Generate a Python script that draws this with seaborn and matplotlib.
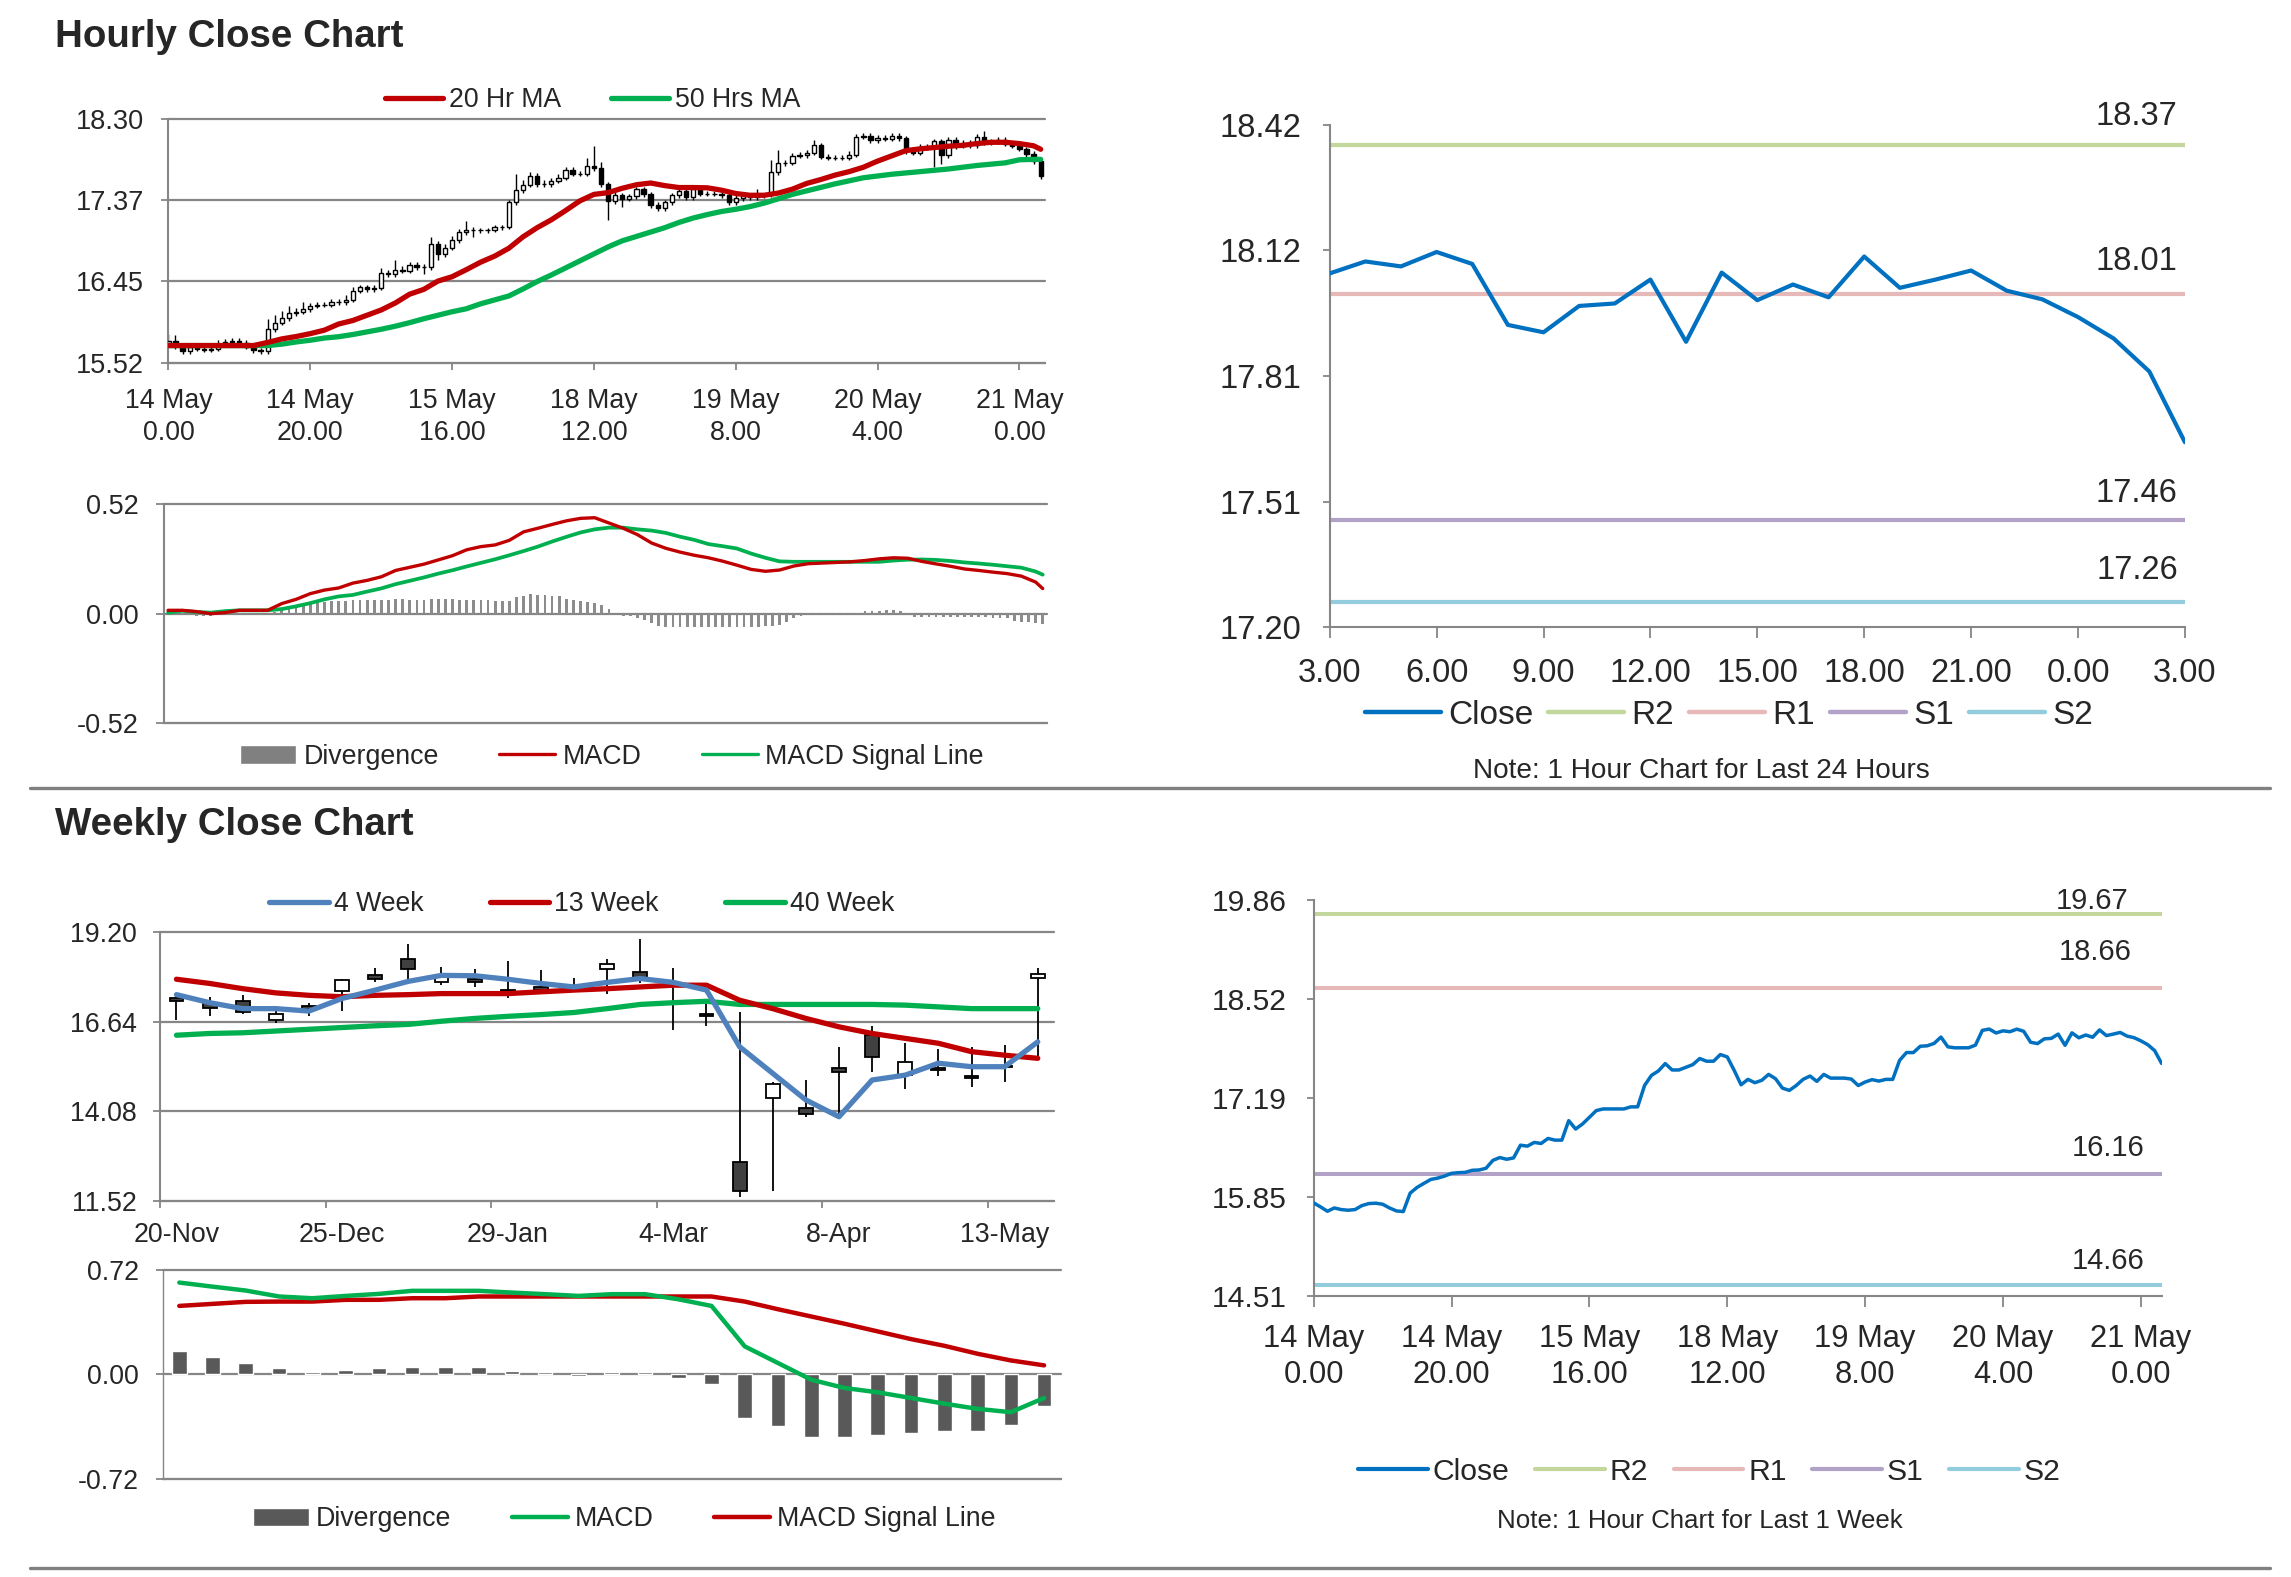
import numpy as np
import pandas as pd
import matplotlib
matplotlib.use("Agg")
import matplotlib.pyplot as plt
from matplotlib.lines import Line2D
from matplotlib.patches import Patch
import seaborn as sns

sns.set_theme(style="white")
plt.rcParams['font.family'] = ['Liberation Sans', 'DejaVu Sans']

RED = '#c00000'
GREEN = '#00b050'
BLUE4 = '#4f81bd'
CLOSE = '#0070c0'
GRID = '#868686'
LVL_COLORS = ['#c3d69b', '#e6b9b8', '#b3a2c7', '#93cddd']

# ---------------- hourly data: 14 May 0.00 -> 21 May 3.00, one value per hour
hr_open = [15.740, 15.766, 15.712, 15.653, 15.698, 15.676, 15.667, 15.676, 15.730, 15.757,
           15.762, 15.748, 15.698, 15.658, 15.649, 15.898, 15.975, 16.030, 16.083, 16.101,
           16.128, 16.165, 16.174, 16.178, 16.206, 16.210, 16.233, 16.340, 16.378, 16.355,
           16.373, 16.545, 16.532, 16.582, 16.568, 16.636, 16.613, 16.613, 16.876, 16.763,
           16.831, 16.921, 17.012, 17.034, 17.034, 17.034, 17.034, 17.062, 17.062, 17.350,
           17.487, 17.546, 17.646, 17.560, 17.560, 17.596, 17.632, 17.714, 17.678, 17.678,
           17.768, 17.736, 17.555, 17.360, 17.433, 17.388, 17.420, 17.500, 17.442, 17.315,
           17.284, 17.350, 17.433, 17.478, 17.406, 17.500, 17.450, 17.450, 17.450, 17.437,
           17.350, 17.397, 17.429, 17.410, 17.433, 17.433, 17.690, 17.795, 17.795, 17.880,
           17.886, 17.918, 18.004, 17.872, 17.859, 17.859, 17.859, 17.895, 18.094, 18.112,
           18.059, 18.088, 18.076, 18.111, 18.082, 17.934, 17.916, 17.980, 17.986, 18.044,
           17.893, 18.061, 17.994, 18.032, 18.001, 18.100, 18.024, 18.044, 18.066, 18.017,
           17.996, 17.953, 17.901, 17.821]
hr_close = [15.766, 15.712, 15.653, 15.698, 15.676, 15.667, 15.676, 15.730, 15.757, 15.762,
            15.748, 15.698, 15.658, 15.649, 15.898, 15.975, 16.030, 16.083, 16.101, 16.128,
            16.165, 16.174, 16.178, 16.206, 16.210, 16.233, 16.340, 16.378, 16.355, 16.373,
            16.545, 16.532, 16.582, 16.568, 16.636, 16.613, 16.613, 16.876, 16.763, 16.831,
            16.921, 17.012, 17.034, 17.034, 17.034, 17.034, 17.062, 17.062, 17.350, 17.487,
            17.546, 17.646, 17.560, 17.560, 17.596, 17.632, 17.714, 17.678, 17.678, 17.768,
            17.736, 17.555, 17.360, 17.433, 17.388, 17.420, 17.500, 17.442, 17.315, 17.284,
            17.350, 17.433, 17.478, 17.406, 17.500, 17.450, 17.450, 17.450, 17.437, 17.350,
            17.397, 17.429, 17.410, 17.433, 17.433, 17.690, 17.795, 17.795, 17.880, 17.886,
            17.918, 18.004, 17.872, 17.859, 17.859, 17.859, 17.895, 18.094, 18.112, 18.059,
            18.088, 18.076, 18.111, 18.082, 17.934, 17.916, 17.980, 17.986, 18.044, 17.893,
            18.061, 17.994, 18.032, 18.001, 18.100, 18.024, 18.044, 18.066, 18.017, 17.996,
            17.953, 17.901, 17.821, 17.649]
hr_high = [15.85, 15.84, 15.74, 15.73, 15.73, 15.71, 15.71, 15.78, 15.79, 15.80,
           15.80, 15.78, 15.73, 15.69, 16.02, 16.06, 16.11, 16.17, 16.14, 16.21,
           16.20, 16.21, 16.21, 16.24, 16.24, 16.29, 16.38, 16.41, 16.41, 16.40,
           16.60, 16.58, 16.69, 16.62, 16.67, 16.67, 16.65, 16.95, 16.91, 16.87,
           16.96, 17.05, 17.14, 17.07, 17.06, 17.06, 17.09, 17.09, 17.38, 17.67,
           17.60, 17.70, 17.68, 17.60, 17.63, 17.67, 17.75, 17.75, 17.71, 17.85,
           17.99, 17.81, 17.58, 17.47, 17.46, 17.45, 17.53, 17.53, 17.47, 17.35,
           17.38, 17.46, 17.51, 17.51, 17.53, 17.53, 17.48, 17.48, 17.49, 17.47,
           17.43, 17.46, 17.46, 17.50, 17.46, 17.83, 17.945, 17.83, 17.91, 17.92,
           17.95, 18.06, 18.03, 17.90, 17.89, 17.89, 17.93, 18.13, 18.14, 18.14,
           18.12, 18.12, 18.14, 18.14, 18.11, 17.96, 18.01, 18.02, 18.07, 18.07,
           18.09, 18.09, 18.06, 18.06, 18.13, 18.16, 18.07, 18.09, 18.09, 18.04,
           18.02, 17.98, 17.93, 17.85]
hr_low = [15.71, 15.68, 15.62, 15.62, 15.65, 15.64, 15.64, 15.65, 15.70, 15.73,
          15.72, 15.67, 15.63, 15.62, 15.62, 15.87, 15.95, 16.00, 16.05, 16.07,
          16.10, 16.14, 16.15, 16.15, 16.18, 16.18, 16.21, 16.31, 16.33, 16.33,
          16.35, 16.50, 16.50, 16.54, 16.54, 16.58, 16.53, 16.58, 16.69, 16.73,
          16.80, 16.89, 16.98, 16.95, 17.00, 17.00, 17.01, 17.03, 17.04, 17.32,
          17.46, 17.52, 17.53, 17.53, 17.53, 17.57, 17.60, 17.65, 17.65, 17.65,
          17.71, 17.52, 17.15, 17.33, 17.30, 17.36, 17.39, 17.41, 17.28, 17.25,
          17.25, 17.32, 17.40, 17.38, 17.38, 17.42, 17.42, 17.42, 17.40, 17.32,
          17.32, 17.37, 17.38, 17.38, 17.40, 17.41, 17.66, 17.76, 17.77, 17.85,
          17.86, 17.89, 17.84, 17.83, 17.83, 17.83, 17.83, 17.87, 18.07, 18.03,
          18.03, 18.05, 18.05, 18.05, 17.90, 17.89, 17.89, 17.95, 17.75, 17.79,
          17.86, 17.96, 17.97, 17.97, 17.97, 18.00, 18.00, 18.02, 17.99, 17.97,
          17.93, 17.87, 17.79, 17.61]

# moving averages and MACD, read every second hour
ma_hours = list(range(0, 123, 2)) + [123]
ma20 = [15.714, 15.714, 15.714, 15.714, 15.714, 15.714, 15.714, 15.75, 15.79, 15.817,
        15.85, 15.89, 15.96, 16.00, 16.06, 16.12, 16.20, 16.30, 16.355, 16.45,
        16.50, 16.58, 16.665, 16.735, 16.825, 16.955, 17.06, 17.15, 17.255, 17.365,
        17.44, 17.46, 17.51, 17.55, 17.57, 17.54, 17.518, 17.518, 17.515, 17.488,
        17.45, 17.43, 17.43, 17.455, 17.50, 17.565, 17.61, 17.66, 17.70, 17.75,
        17.82, 17.88, 17.94, 17.96, 17.975, 17.99, 18.00, 18.02, 18.035, 18.035,
        18.02, 17.995, 17.955]
ma50 = [15.714, 15.714, 15.714, 15.714, 15.714, 15.714, 15.714, 15.714, 15.73, 15.755,
        15.775, 15.80, 15.815, 15.84, 15.87, 15.90, 15.935, 15.975, 16.02, 16.06,
        16.10, 16.134, 16.19, 16.235, 16.28, 16.36, 16.445, 16.52, 16.60, 16.68,
        16.76, 16.84, 16.91, 16.96, 17.01, 17.06, 17.12, 17.17, 17.21, 17.245,
        17.27, 17.30, 17.34, 17.39, 17.44, 17.48, 17.52, 17.56, 17.595, 17.63,
        17.65, 17.67, 17.685, 17.70, 17.715, 17.73, 17.75, 17.77, 17.785, 17.80,
        17.835, 17.84, 17.84]
hr_macd = [0.016, 0.016, 0.010, 0.000, 0.005, 0.016, 0.016, 0.016, 0.048, 0.068,
           0.095, 0.112, 0.122, 0.145, 0.158, 0.175, 0.205, 0.220, 0.235, 0.255,
           0.275, 0.303, 0.318, 0.326, 0.348, 0.388, 0.405, 0.423, 0.440, 0.452,
           0.455, 0.430, 0.405, 0.375, 0.335, 0.310, 0.292, 0.277, 0.265, 0.249,
           0.230, 0.210, 0.201, 0.207, 0.226, 0.237, 0.240, 0.243, 0.246, 0.252,
           0.260, 0.265, 0.263, 0.248, 0.236, 0.225, 0.212, 0.205, 0.197, 0.190,
           0.178, 0.150, 0.119]
hr_signal = [0.005, 0.014, 0.008, 0.005, 0.012, 0.016, 0.016, 0.016, 0.022, 0.035,
             0.050, 0.068, 0.082, 0.089, 0.105, 0.120, 0.140, 0.156, 0.172, 0.190,
             0.206, 0.224, 0.241, 0.258, 0.277, 0.297, 0.318, 0.342, 0.364, 0.385,
             0.400, 0.408, 0.408, 0.400, 0.394, 0.383, 0.365, 0.350, 0.330, 0.320,
             0.309, 0.285, 0.265, 0.248, 0.246, 0.246, 0.246, 0.246, 0.246, 0.246,
             0.246, 0.252, 0.256, 0.257, 0.255, 0.250, 0.243, 0.238, 0.232, 0.225,
             0.218, 0.200, 0.185]
hr_div = [0.005, 0.005, 0.004, 0.003, -0.010, -0.010, -0.010, -0.008, 0.003, 0.003,
          0.003, 0.003, 0.003, -0.008, 0.005, 0.008, 0.020, 0.025, 0.030, 0.035,
          0.045, 0.050, 0.055, 0.060, 0.060, 0.062, 0.063, 0.063, 0.063, 0.063,
          0.064, 0.065, 0.068, 0.068, 0.066, 0.064, 0.065, 0.070, 0.070, 0.070,
          0.068, 0.066, 0.066, 0.065, 0.064, 0.063, 0.060, 0.060, 0.060, 0.080,
          0.085, 0.092, 0.090, 0.088, 0.085, 0.082, 0.068, 0.065, 0.060, 0.055,
          0.050, 0.040, 0.020, 0.000, -0.010, -0.012, -0.020, -0.030, -0.045, -0.060,
          -0.063, -0.063, -0.064, -0.064, -0.063, -0.063, -0.063, -0.063, -0.063, -0.062,
          -0.063, -0.063, -0.063, -0.063, -0.060, -0.058, -0.055, -0.040, -0.020, -0.010,
          0.003, 0.003, 0.003, 0.003, 0.003, 0.003, 0.003, 0.003, 0.015, 0.015,
          0.015, 0.016, 0.016, 0.015, 0.005, -0.015, -0.015, -0.015, -0.015, -0.015,
          -0.015, -0.015, -0.015, -0.015, -0.015, -0.015, -0.020, -0.020, -0.022, -0.035,
          -0.040, -0.040, -0.045, -0.050]

hr_ticks = [0, 20, 40, 60, 80, 100, 120]
hr_tick_labels = ['14 May\n0.00', '14 May\n20.00', '15 May\n16.00', '18 May\n12.00',
                  '19 May\n8.00', '20 May\n4.00', '21 May\n0.00']
day_tick_labels = ['3.00', '6.00', '9.00', '12.00', '15.00', '18.00', '21.00', '0.00', '3.00']

level_names = ['R2', 'R1', 'S1', 'S2']
day_levels = [18.37, 18.01, 17.46, 17.26]
week_levels = [19.67, 18.66, 16.16, 14.66]

# ---------------- weekly data: 20-Nov -> 20-May
wk_labels = ['20-Nov', '25-Dec', '29-Jan', '4-Mar', '8-Apr', '13-May']
wk_open = [17.30, 17.16, 17.22, 16.68, 17.08, 17.51, 17.96, 18.44, 17.76, 17.85,
           17.53, 17.62, 17.67, 18.15, 18.06, 17.68, 16.87, 12.64, 14.45, 14.16,
           15.32, 16.25, 15.11, 15.32, 15.09, 15.37, 17.89]
wk_close = [17.22, 17.04, 16.90, 16.86, 17.01, 17.84, 17.87, 18.15, 17.96, 17.76,
            17.51, 17.55, 17.65, 18.28, 17.85, 17.66, 16.79, 11.81, 14.87, 13.99,
            15.19, 15.62, 15.49, 15.25, 15.02, 15.33, 18.01]
wk_high = [17.39, 17.35, 17.39, 17.09, 17.16, 17.87, 18.17, 18.87, 18.20, 18.15,
           18.36, 18.11, 17.89, 18.42, 18.99, 18.17, 17.15, 16.90, 14.92, 14.97,
           15.90, 16.52, 16.03, 15.85, 15.90, 15.97, 18.17]
wk_low = [16.68, 16.80, 16.87, 16.59, 16.80, 16.94, 17.77, 17.82, 17.68, 17.63,
          17.30, 17.49, 17.60, 17.44, 17.73, 16.40, 16.52, 11.64, 11.81, 13.90,
          13.97, 15.21, 14.71, 15.08, 14.78, 14.92, 15.64]
wk_ma4 = [17.41, 17.18, 17.01, 17.01, 16.94, 17.30, 17.54, 17.79, 17.96, 17.95,
          17.85, 17.73, 17.63, 17.76, 17.87, 17.76, 17.54, 15.92, 15.16, 14.40,
          13.92, 14.97, 15.11, 15.45, 15.35, 15.35, 16.06]
wk_ma13 = [17.85, 17.73, 17.58, 17.46, 17.39, 17.35, 17.39, 17.41, 17.44, 17.44,
           17.44, 17.49, 17.54, 17.58, 17.63, 17.68, 17.68, 17.25, 17.01, 16.73,
           16.49, 16.30, 16.16, 16.02, 15.78, 15.68, 15.59]
wk_ma40 = [16.25, 16.30, 16.32, 16.37, 16.42, 16.47, 16.52, 16.56, 16.65, 16.73,
           16.79, 16.84, 16.90, 17.01, 17.13, 17.18, 17.22, 17.13, 17.13, 17.13,
           17.13, 17.13, 17.11, 17.06, 17.01, 17.01, 17.01]
wk_macd = [0.633, 0.605, 0.578, 0.537, 0.525, 0.541, 0.555, 0.576, 0.576, 0.576,
           0.564, 0.553, 0.541, 0.553, 0.553, 0.518, 0.472, 0.193, 0.078, -0.037,
           -0.094, -0.124, -0.163, -0.202, -0.238, -0.261, -0.163]
wk_signal = [0.472, 0.486, 0.500, 0.502, 0.502, 0.514, 0.514, 0.525, 0.525, 0.537,
             0.537, 0.537, 0.537, 0.537, 0.537, 0.537, 0.537, 0.502, 0.449, 0.399,
             0.349, 0.296, 0.243, 0.197, 0.142, 0.096, 0.062]
wk_div = [0.158, 0.119, 0.078, 0.041, 0.014, 0.028, 0.041, 0.053, 0.053, 0.053,
          0.025, 0.014, -0.009, 0.014, 0.014, -0.023, -0.064, -0.300, -0.353, -0.433,
          -0.433, -0.420, -0.406, -0.394, -0.394, -0.351, -0.220]


def candles(ax, x, o, h, l, c, width, down_color, lw):
    x = np.asarray(x, dtype=float)
    o = np.asarray(o)
    c = np.asarray(c)
    lo = np.minimum(o, c)
    hi = np.maximum(o, c)
    up = c >= o
    ax.vlines(x, l, h, color='black', lw=lw, zorder=2)
    ax.bar(x[up], (hi - lo)[up], bottom=lo[up], width=width, color='white',
           edgecolor='black', linewidth=lw, zorder=3)
    ax.bar(x[~up], (hi - lo)[~up], bottom=lo[~up], width=width, color=down_color,
           edgecolor='black', linewidth=lw, zorder=3)


def frame(ax, ylim, ylabels, fs, ypad, grid=True, ylen=5):
    ticks = np.linspace(ylim[0], ylim[1], len(ylabels))
    ax.set_ylim(*ylim)
    ax.set_yticks(ticks)
    ax.set_yticklabels(ylabels, fontsize=fs)
    for s in ['top', 'right']:
        ax.spines[s].set_visible(False)
    for s in ['left', 'bottom']:
        ax.spines[s].set_color(GRID)
        ax.spines[s].set_linewidth(1.5)
    ax.tick_params(axis='y', left=True, length=ylen, width=1.3, color=GRID, pad=ypad)
    if grid:
        for v in ticks:
            ax.axhline(v, color=GRID, lw=1.6, clip_on=False, zorder=1)
    ax.set_xlabel('')
    ax.set_ylabel('')


def line(ax, x, y, color, lw, z=4):
    sns.lineplot(x=x, y=y, ax=ax, color=color, lw=lw, zorder=z, estimator=None, sort=False)


def legend(handles, labels, pos, fs, hl, tp, cs):
    fig.legend(handles, labels, loc='center', bbox_to_anchor=pos, ncol=len(labels),
               frameon=False, fontsize=fs, handlelength=hl, handletextpad=tp,
               columnspacing=cs, borderaxespad=0, borderpad=0)


fig = plt.figure(figsize=(22.91, 15.77), dpi=100)
fig.patch.set_facecolor('white')

# ================= Hourly close chart (candles + MAs)
ax1 = fig.add_axes([0.0735, 0.7701, 0.3826, 0.1544])
hx = np.arange(len(hr_close))
candles(ax1, hx, hr_open, hr_high, hr_low, hr_close, 0.6, 'black', 1.0)
line(ax1, ma_hours, ma50, GREEN, 3.8)
line(ax1, ma_hours, ma20, RED, 3.8)
ax1.set_xlim(0, 123.6)
frame(ax1, (15.52, 18.30), ['15.52', '16.45', '17.37', '18.30'], 19.5, 12.5)
ax1.set_xticks(hr_ticks)
ax1.set_xticklabels(hr_tick_labels, fontsize=19.3, linespacing=1.3)
ax1.tick_params(axis='x', bottom=True, length=5, width=1.3, color=GRID, pad=13)
legend([Line2D([], [], color=RED, lw=3.8), Line2D([], [], color=GREEN, lw=3.8)],
       ['20 Hr MA', '50 Hrs MA'], (0.2587, 0.9366), 19.2, 2.17, 0.21, 1.9)

# ================= Hourly MACD
ax2 = fig.add_axes([0.0718, 0.5413, 0.3852, 0.1391])
ax2.bar(hx, hr_div, width=0.4, color='#8c8c8c', linewidth=0, zorder=2)
line(ax2, ma_hours, hr_signal, GREEN, 2.7)
line(ax2, ma_hours, hr_macd, RED, 2.4)
ax2.set_xlim(-0.5, 123.6)
frame(ax2, (-0.52, 0.52), ['-0.52', '0.00', '0.52'], 19.5, 12.5, ylen=6)
ax2.set_xticks([])
legend([Patch(facecolor='#808080'), Line2D([], [], color=RED, lw=2.4),
        Line2D([], [], color=GREEN, lw=2.4)],
       ['Divergence', 'MACD', 'MACD Signal Line'], (0.267, 0.5202), 19.3, 2.1, 0.26, 2.25)

# ================= Last 24 hours with pivots
ax3 = fig.add_axes([0.5804, 0.6023, 0.3733, 0.3186])
dx = np.arange(25)
for lvl, col in zip(day_levels, LVL_COLORS):
    ax3.axhline(lvl, color=col, lw=3.0, zorder=2)
line(ax3, dx, hr_close[-25:], CLOSE, 3.0)
for lvl, off in zip(day_levels, [21, 23, 19.5, 23.3]):
    ax3.annotate(f'{lvl:.2f}', (22.65, lvl), xytext=(0, off), textcoords='offset points',
                 ha='center', va='center', fontsize=23.5)
ax3.set_xlim(0, 24)
frame(ax3, (17.20, 18.42), ['17.20', '17.51', '17.81', '18.12', '18.42'], 23.5, 15.6,
      grid=False)
ax3.set_xticks(range(0, 25, 3))
ax3.set_xticklabels(day_tick_labels, fontsize=23.5)
ax3.tick_params(axis='x', bottom=True, length=8, width=1.3, color=GRID, pad=14)
legend([Line2D([], [], color=CLOSE, lw=3.2)] +
       [Line2D([], [], color=c, lw=3.2) for c in LVL_COLORS],
       ['Close'] + level_names, (0.7547, 0.5462), 24, 2.27, 0.22, 0.46)
fig.text(0.7425, 0.5112, 'Note: 1 Hour Chart for Last 24 Hours', ha='center', va='center',
         fontsize=20.2)

# ================= Weekly close chart (candles + MAs)
ax4 = fig.add_axes([0.0698, 0.2386, 0.3904, 0.1704])
wx = np.arange(len(wk_close))
candles(ax4, wx, wk_open, wk_high, wk_low, wk_close, 0.42, '#404040', 1.3)
line(ax4, wx, wk_ma40, GREEN, 3.8)
line(ax4, wx, wk_ma13, RED, 3.8)
line(ax4, wx, wk_ma4, BLUE4, 3.8)
ax4.set_xlim(-0.5, 26.5)
frame(ax4, (11.52, 19.20), ['11.52', '14.08', '16.64', '19.20'], 19.3, 11.7)
ax4.set_xticks(np.arange(-0.5, 25, 5))
ax4.set_xticklabels([])
ax4.set_xticks(np.arange(0, 26, 5), minor=True)
ax4.set_xticklabels(wk_labels, minor=True, fontsize=19.3)
ax4.tick_params(axis='x', which='major', bottom=True, length=5, width=1.3, color=GRID)
ax4.tick_params(axis='x', which='minor', bottom=True, length=0, pad=15)
legend([Line2D([], [], color=BLUE4, lw=3.8), Line2D([], [], color=RED, lw=3.8),
        Line2D([], [], color=GREEN, lw=3.8)],
       ['4 Week', '13 Week', '40 Week'], (0.2539, 0.4265), 19.2, 2.23, 0.19, 2.5)

# ================= Weekly MACD
ax5 = fig.add_axes([0.071, 0.0623, 0.392, 0.1324])
ax5.bar(wx, wk_div, width=0.44, color='#595959', zorder=2)
line(ax5, wx, wk_signal, RED, 3.2)
line(ax5, wx, wk_macd, GREEN, 3.2)
ax5.set_xlim(-0.5, 26.5)
frame(ax5, (-0.72, 0.72), ['-0.72', '0.00', '0.72'], 19.3, 12)
ax5.spines['left'].set_linewidth(1.0)
ax5.set_xticks([])
legend([Patch(facecolor='#595959'), Line2D([], [], color=GREEN, lw=3.2),
        Line2D([], [], color=RED, lw=3.2)],
       ['Divergence', 'MACD', 'MACD Signal Line'], (0.2725, 0.0365), 19.3, 2.1, 0.26, 2.25)

# ================= Last week with pivots
ax6 = fig.add_axes([0.5734, 0.1782, 0.3701, 0.2514])
for lvl, col in zip(week_levels, LVL_COLORS):
    ax6.axhline(lvl, color=col, lw=2.9, zorder=2)
line(ax6, hx, hr_close, CLOSE, 2.5)
for lvl, xp, off in zip(week_levels, [113.0, 113.3, 115.2, 115.2], [9, 26, 18.5, 17.4]):
    ax6.annotate(f'{lvl:.2f}', (xp, lvl), xytext=(0, off), textcoords='offset points',
                 ha='center', va='center', fontsize=21)
ax6.set_xlim(0, 123)
frame(ax6, (14.51, 19.86), ['14.51', '15.85', '17.19', '18.52', '19.86'], 21.6, 14.2,
      grid=False)
ax6.set_xticks(hr_ticks)
ax6.set_xticklabels(hr_tick_labels, fontsize=22.2, linespacing=1.25)
ax6.tick_params(axis='x', bottom=True, length=8, width=1.3, color=GRID, pad=12.5)
legend([Line2D([], [], color=CLOSE, lw=3.0)] +
       [Line2D([], [], color=c, lw=3.0) for c in LVL_COLORS],
       ['Close'] + level_names, (0.7462, 0.0666), 21.7, 2.3, 0.17, 0.85)
fig.text(0.742, 0.0352, 'Note: 1 Hour Chart for Last 1 Week', ha='center', va='center',
         fontsize=18.6)

# ================= titles and separators
fig.text(0.0239, 0.9704, 'Hourly Close Chart', fontsize=27.7, fontweight='bold',
         ha='left', va='baseline')
fig.text(0.0239, 0.4705, 'Weekly Close Chart', fontsize=27.7, fontweight='bold',
         ha='left', va='baseline')
fig.add_artist(Line2D([0.013, 0.991], [0.5005, 0.5005], transform=fig.transFigure,
                      color='#808080', lw=2.4))
fig.add_artist(Line2D([0.013, 0.991], [0.0055, 0.0055], transform=fig.transFigure,
                      color='#808080', lw=2.4))

fig.savefig('out.png', dpi=100)
